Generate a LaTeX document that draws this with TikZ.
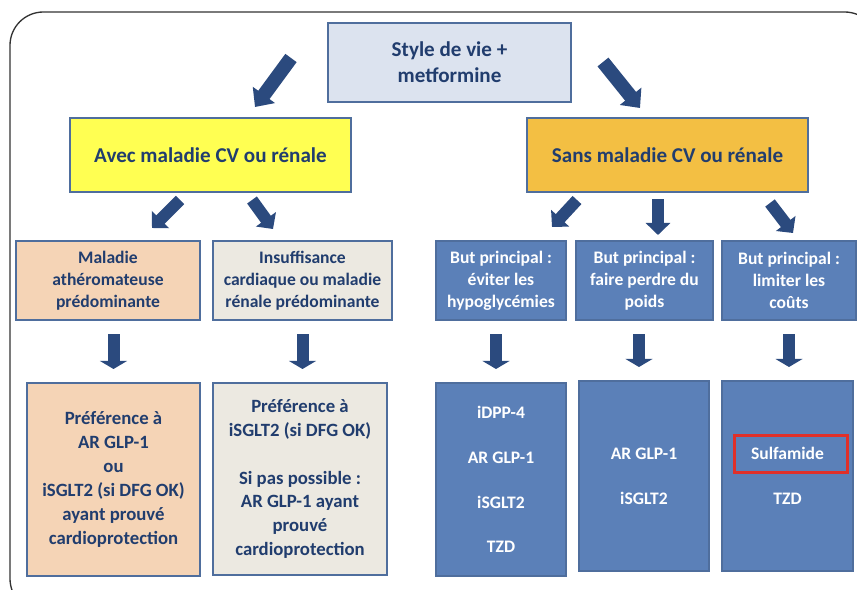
\documentclass[tikz,border=0pt]{standalone}
\usepackage{fontspec}
\setmainfont{Carlito}
\usetikzlibrary{positioning, arrows.meta, calc}

\definecolor{navytext}{HTML}{213D6E}
\definecolor{arrowblue}{HTML}{2B4A7E}
\definecolor{boxline}{HTML}{4F6E9D}
\definecolor{topfill}{HTML}{DCE3EF}
\definecolor{yellowfill}{HTML}{FFFF52}
\definecolor{orangefill}{HTML}{F3BF43}
\definecolor{peachfill}{HTML}{F5D4B6}
\definecolor{beigefill}{HTML}{ECE9E1}
\definecolor{bluefill}{HTML}{5B80B8}
\definecolor{redline}{HTML}{E0302A}

\begin{document}
\begin{tikzpicture}[x=0.03cm, y=-0.03cm,
    box/.style={draw=boxline, line width=0.06cm, align=center, inner sep=0pt,
        text=navytext, font=\bfseries\fontsize{15}{18.7}\selectfont},
    headbox/.style={box, font=\bfseries\fontsize{18}{22}\selectfont},
    listbox/.style={box, font=\bfseries\fontsize{16}{20.4}\selectfont},
    goalbox/.style={box, fill=bluefill, text=white},
    drugbox/.style={goalbox, font=\bfseries\fontsize{15}{38.3}\selectfont},
    bigarrow/.style={arrowblue, line width=0.42cm, -{Triangle[width=0.8cm, length=0.45cm]}},
    midarrow/.style={arrowblue, line width=0.36cm, -{Triangle[width=0.72cm, length=0.36cm]}},
    downarrow/.style={arrowblue, line width=0.36cm, -{Triangle[width=0.8cm, length=0.24cm]},
        shorten <=13*0.03cm, shorten >=13*0.03cm}]
    \useasboundingbox (0,0) rectangle (857,590);
    \clip (0,0) rectangle (857,590);
    \draw[black!80, line width=0.04cm, rounded corners=1cm] (10,12) rectangle (878,612);

    % --- top ---
    \node[headbox, fill=topfill, minimum width=7.29cm, minimum height=2.37cm] (start) at (449.5,62.5)
        {Style de vie +\\metformine};
    \node[headbox, fill=yellowfill, minimum width=8.43cm, minimum height=2.22cm] (avec) at (210.5,155)
        {Avec maladie CV ou rénale};
    \node[headbox, fill=orangefill, minimum width=8.43cm, minimum height=2.22cm] (sans) at (667.5,155)
        {Sans maladie CV ou rénale};

    % --- avec maladie ---
    \node[box, fill=peachfill, minimum width=5.52cm, minimum height=2.37cm] (athero) at (108,280.5)
        {Maladie\\athéromateuse\\prédominante};
    \node[box, fill=beigefill, minimum width=5.37cm, minimum height=2.37cm] (insuf) at (302.5,280.5)
        {Insuffisance\\cardiaque ou maladie\\rénale prédominante};
    \node[listbox, fill=peachfill, minimum width=5.19cm, minimum height=5.79cm] (prefA) at (113.5,479.5)
        {Préférence à\\AR GLP-1\\ou\\iSGLT2 (si DFG OK)\\ayant prouvé\\cardioprotection};
    \node[listbox, fill=beigefill, minimum width=5.22cm, minimum height=5.76cm] (prefB) at (300,479)
        {Préférence à\\iSGLT2 (si DFG OK)\\[20.4pt]Si pas possible :\\AR GLP-1 ayant\\prouvé\\cardioprotection};

    % --- sans maladie ---
    \node[goalbox, minimum width=3.9cm, minimum height=2.37cm] (hypo) at (501,280.5)
        {But principal :\\éviter les\\hypoglycémies};
    \node[goalbox, minimum width=4.11cm, minimum height=2.37cm] (poids) at (644.5,280.5)
        {But principal :\\faire perdre du\\poids};
    \node[goalbox, minimum width=4.02cm, minimum height=2.37cm] (couts) at (789,280.5)
        {But principal :\\limiter les\\coûts};
    \node[drugbox, minimum width=3.9cm, minimum height=5.79cm] (drugA) at (501,479.5)
        {iDPP-4\\AR GLP-1\\iSGLT2\\TZD};
    \node[drugbox, minimum width=3.9cm, minimum height=5.7cm] (drugB) at (644,476)
        {AR GLP-1\\iSGLT2};
    \node[drugbox, minimum width=3.93cm, minimum height=5.7cm] (drugC) at (787.5,476)
        {Sulfamide\\TZD};
    \node[draw=redline, line width=0.09cm, minimum width=3.39cm, minimum height=1.11cm] (sulfbox) at (790.5,453.5) {};

    % --- arrows ---
    \coordinate (t1) at (291,58);  \coordinate (h1) at (255,107);
    \coordinate (t2) at (603,62);  \coordinate (h2) at (640,108);
    \coordinate (t3) at (180,200); \coordinate (h3) at (152,228);
    \coordinate (t4) at (252,200); \coordinate (h4) at (273,229);
    \coordinate (t5) at (577,200); \coordinate (h5) at (552,227);
    \coordinate (t6) at (658,199); \coordinate (h6) at (658,235);
    \coordinate (t7) at (770,203); \coordinate (h7) at (793,233);
    \draw[bigarrow] (t1) -- (h1);
    \draw[bigarrow] (t2) -- (h2);
    \foreach \i in {3,...,7}
        \draw[midarrow] (t\i) -- (h\i);
    \draw[downarrow] (prefA.north |- athero.south) -- (prefA.north);
    \draw[downarrow] (insuf.south) -- (insuf.south |- prefB.north);
    \draw[downarrow] ([xshift=-0.15cm]hypo.south) -- ([xshift=-0.15cm]drugA.north);
    \draw[downarrow] ([xshift=-0.15cm]drugB.north |- poids.south) -- ([xshift=-0.15cm]drugB.north);
    \draw[downarrow] (couts.south) -- (couts.south |- drugC.north);
\end{tikzpicture}
\end{document}
